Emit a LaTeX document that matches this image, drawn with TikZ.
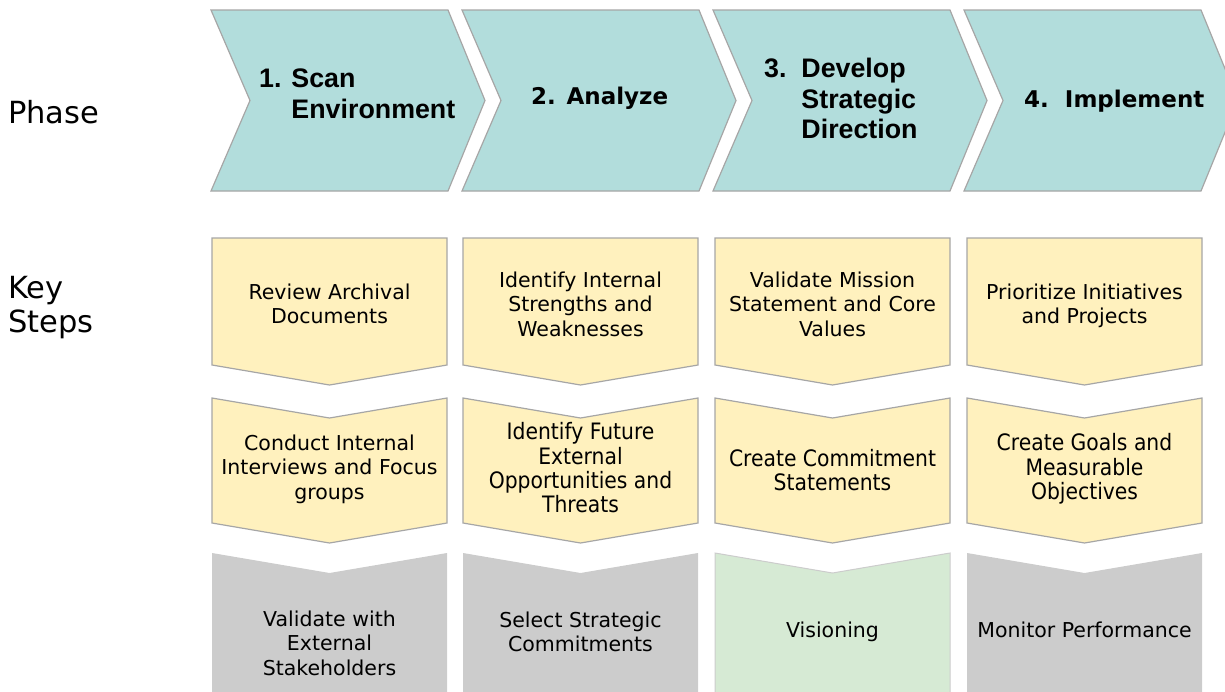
\documentclass[tikz,border=0pt]{standalone}
\usepackage{fontspec}
\setmainfont{DejaVu Sans}
\newfontfamily\condfont{DejaVu Sans Condensed}
\newfontfamily\arialfont{Liberation Sans}

\definecolor{chevfill}{HTML}{B2DDDC}
\definecolor{chevline}{HTML}{A6A6A6}
\definecolor{stepfill}{HTML}{FFF1BE}
\definecolor{stepline}{HTML}{A6A6A6}
\definecolor{greyfill}{HTML}{CCCCCC}
\definecolor{greenfill}{HTML}{D6EAD4}

\tikzset{
  chev/.style={draw=chevline, fill=chevfill, line width=1.2pt, line join=miter},
  stepbox/.style={draw=stepline, fill=stepfill, line width=1.2pt, line join=miter},
  greybox/.style={fill=greyfill},
  greenbox/.style={draw=greyfill, fill=greenfill, line width=1pt},
  rowlabel/.style={inner sep=0pt, align=left, font=\fontsize{30.5}{34}\selectfont},
  headA/.style={inner sep=0pt, align=left, anchor=west, font=\arialfont\bfseries\fontsize{26.8}{30.5}\selectfont},
  headB/.style={inner sep=0pt, align=left, anchor=west, font=\bfseries\fontsize{23}{28}\selectfont},
  steptext/.style={inner sep=0pt, align=center, font=\fontsize{20.5}{24.5}\selectfont},
  steptextc/.style={inner sep=0pt, align=center, font=\condfont\fontsize{22.6}{24.3}\selectfont},
}

\begin{document}
\begin{tikzpicture}[x=1pt, y=-1pt]
  \useasboundingbox (0,0) rectangle (1225,691);
  \clip (0,0) rectangle (1225,691);

  % phase chevrons
  \foreach \x in {211,462,713,964} {
    \draw[chev] (\x,10) -- ++(237,0) -- ++(37,90.5) -- ++(-37,90.5)
      -- ++(-237,0) -- ++(39,-90.5) -- cycle;
  }

  % key step boxes, three rows per column
  \foreach \x/\kind in {212/greybox,463/greybox,715/greenbox,967/greybox} {
    \draw[stepbox] (\x,238) -- (\x+235,238) -- (\x+235,365) -- (\x+117.5,385)
      -- (\x,365) -- cycle;
    \draw[stepbox] (\x,398) -- (\x+117.5,418) -- (\x+235,398) -- (\x+235,523)
      -- (\x+117.5,543) -- (\x,523) -- cycle;
    \path[\kind] (\x,553) -- (\x+117.5,573) -- (\x+235,553) -- (\x+235,700)
      -- (\x,700) -- cycle;
  }

  % row labels
  \node[rowlabel, anchor=base west] (lphase) at (8,123) {Phase};
  \node[rowlabel, anchor=west] (lsteps) at (8,308) {Key\\Steps};

  % phase titles
  \node[headA] (ph1) at (259,94) {1. Scan\\\phantom{1. }Environment};
  \node[headB] (ph2) at (531,98.5) {2. Analyze};
  \node[headA] (ph3) at (764,98.6) {3.\ \ Develop\\\phantom{3.\ \ }Strategic\\\phantom{3.\ \ }Direction};
  \node[headB] (ph4) at (1024,101) {4.\ \ Implement};

  % column 1
  \node[steptext] (s11) at (329.5,304) {Review Archival\\Documents};
  \node[steptext] (s12) at (329.5,469) {Conduct Internal\\Interviews and Focus\\groups};
  \node[steptext] (s13) at (329.5,643) {Validate with\\External\\Stakeholders};
  % column 2
  \node[steptext] (s21) at (580.5,304) {Identify Internal\\Strengths and\\Weaknesses};
  \node[steptextc] (s22) at (580.5,468) {Identify Future\\External\\Opportunities and\\Threats};
  \node[steptext] (s23) at (580.5,632) {Select Strategic\\Commitments};
  % column 3
  \node[steptext] (s31) at (832.5,304) {Validate Mission\\Statement and Core\\Values};
  \node[steptextc] (s32) at (832.5,470) {Create Commitment\\Statements};
  \node[steptext] (s33) at (832.5,632) {Visioning};
  % column 4
  \node[steptext] (s41) at (1084.5,306) {Prioritize Initiatives\\and Projects};
  \node[steptextc] (s42) at (1084.5,469) {Create Goals and\\Measurable\\Objectives};
  \node[steptext] (s43) at (1084.5,630) {Monitor Performance};
\end{tikzpicture}
\end{document}
